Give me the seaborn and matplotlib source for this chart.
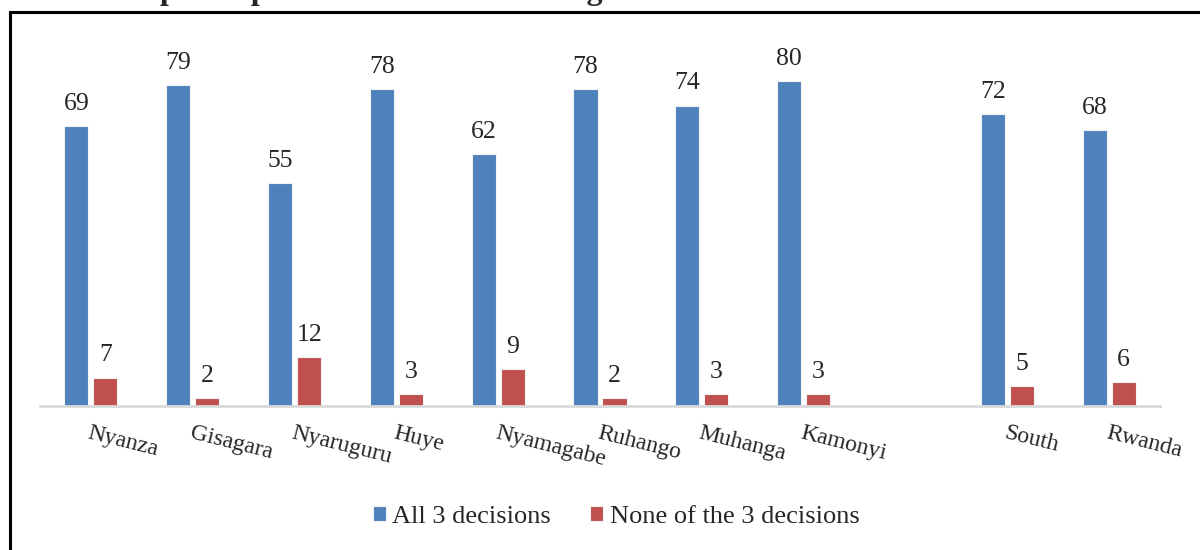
import pandas as pd
import matplotlib.pyplot as plt
from matplotlib.patches import Rectangle
import seaborn as sns

# Données
districts = ['Nyanza', 'Gisagara', 'Nyaruguru', 'Huye', 'Nyamagabe', 'Ruhango',
             'Muhanga', 'Kamonyi', 'South', 'Rwanda']
all_three = [69, 79, 55, 78, 62, 78, 74, 80, 72, 68]
none_three = [7, 2, 12, 3, 9, 2, 3, 3, 5, 6]
series = ['All 3 decisions', 'None of the 3 decisions']
colors = ['#4F81BD', '#C0504D']

# Ordre des catégories avec un emplacement vide avant South
order = districts[:8] + [' '] + districts[8:]

df = pd.DataFrame({
    'district': districts * 2,
    'serie': [series[0]] * len(districts) + [series[1]] * len(districts),
    'value': all_three + none_three,
})

sns.set_style('white')
plt.rcParams['font.family'] = ['Liberation Serif', 'DejaVu Serif']

fig = plt.figure(figsize=(12, 5.5), dpi=100)
ax = fig.add_axes([40 / 1200, 1 - 406 / 550, 1120 / 1200, 365.4 / 550])

sns.barplot(data=df, x='district', y='value', hue='serie', order=order,
            hue_order=series, palette=colors, saturation=1, width=0.57, gap=0.17,
            edgecolor='#F2F2F2', linewidth=0.8, ax=ax)

ax.set_ylim(0, 90)
ax.set_xlim(-0.5, len(order) - 0.5)
for c in ax.containers:
    ax.bar_label(c, padding=8, fontsize=18.5)

# Axe et cadre
for s in ['top', 'right', 'left']:
    ax.spines[s].set_visible(False)
ax.spines['bottom'].set_color('#D9D9D9')
ax.spines['bottom'].set_linewidth(2)
ax.set_yticks([])
ax.set_xlabel('')
ax.set_ylabel('')
ax.tick_params(axis='x', length=0, pad=12)

for lab in ax.get_xticklabels():
    lab.set_rotation(-14)
    lab.set_ha('left')
    lab.set_va('top')
    lab.set_rotation_mode('anchor')
    lab.set_fontsize(17)

ax.legend(loc='center', bbox_to_anchor=(616 / 1200, (550 - 517) / 550), bbox_transform=fig.transFigure,
          ncol=2, frameon=False, fontsize=19, handlelength=0.5, handleheight=0.5,
          handletextpad=0.23, columnspacing=1.5)

# Cadre noir et titre coupé
fig.patches.append(Rectangle((10 / 1200, -0.2), 1.3, 1.2 - 12 / 550,
                             transform=fig.transFigure, fill=False,
                             edgecolor='black', linewidth=2.2))
fig.text(160 / 1200, 1 + 0.5 / 550, 'participation in decision making',
         fontsize=23, fontweight='bold', va='baseline', ha='left')

plt.savefig('out.png', dpi=100)
plt.close()
